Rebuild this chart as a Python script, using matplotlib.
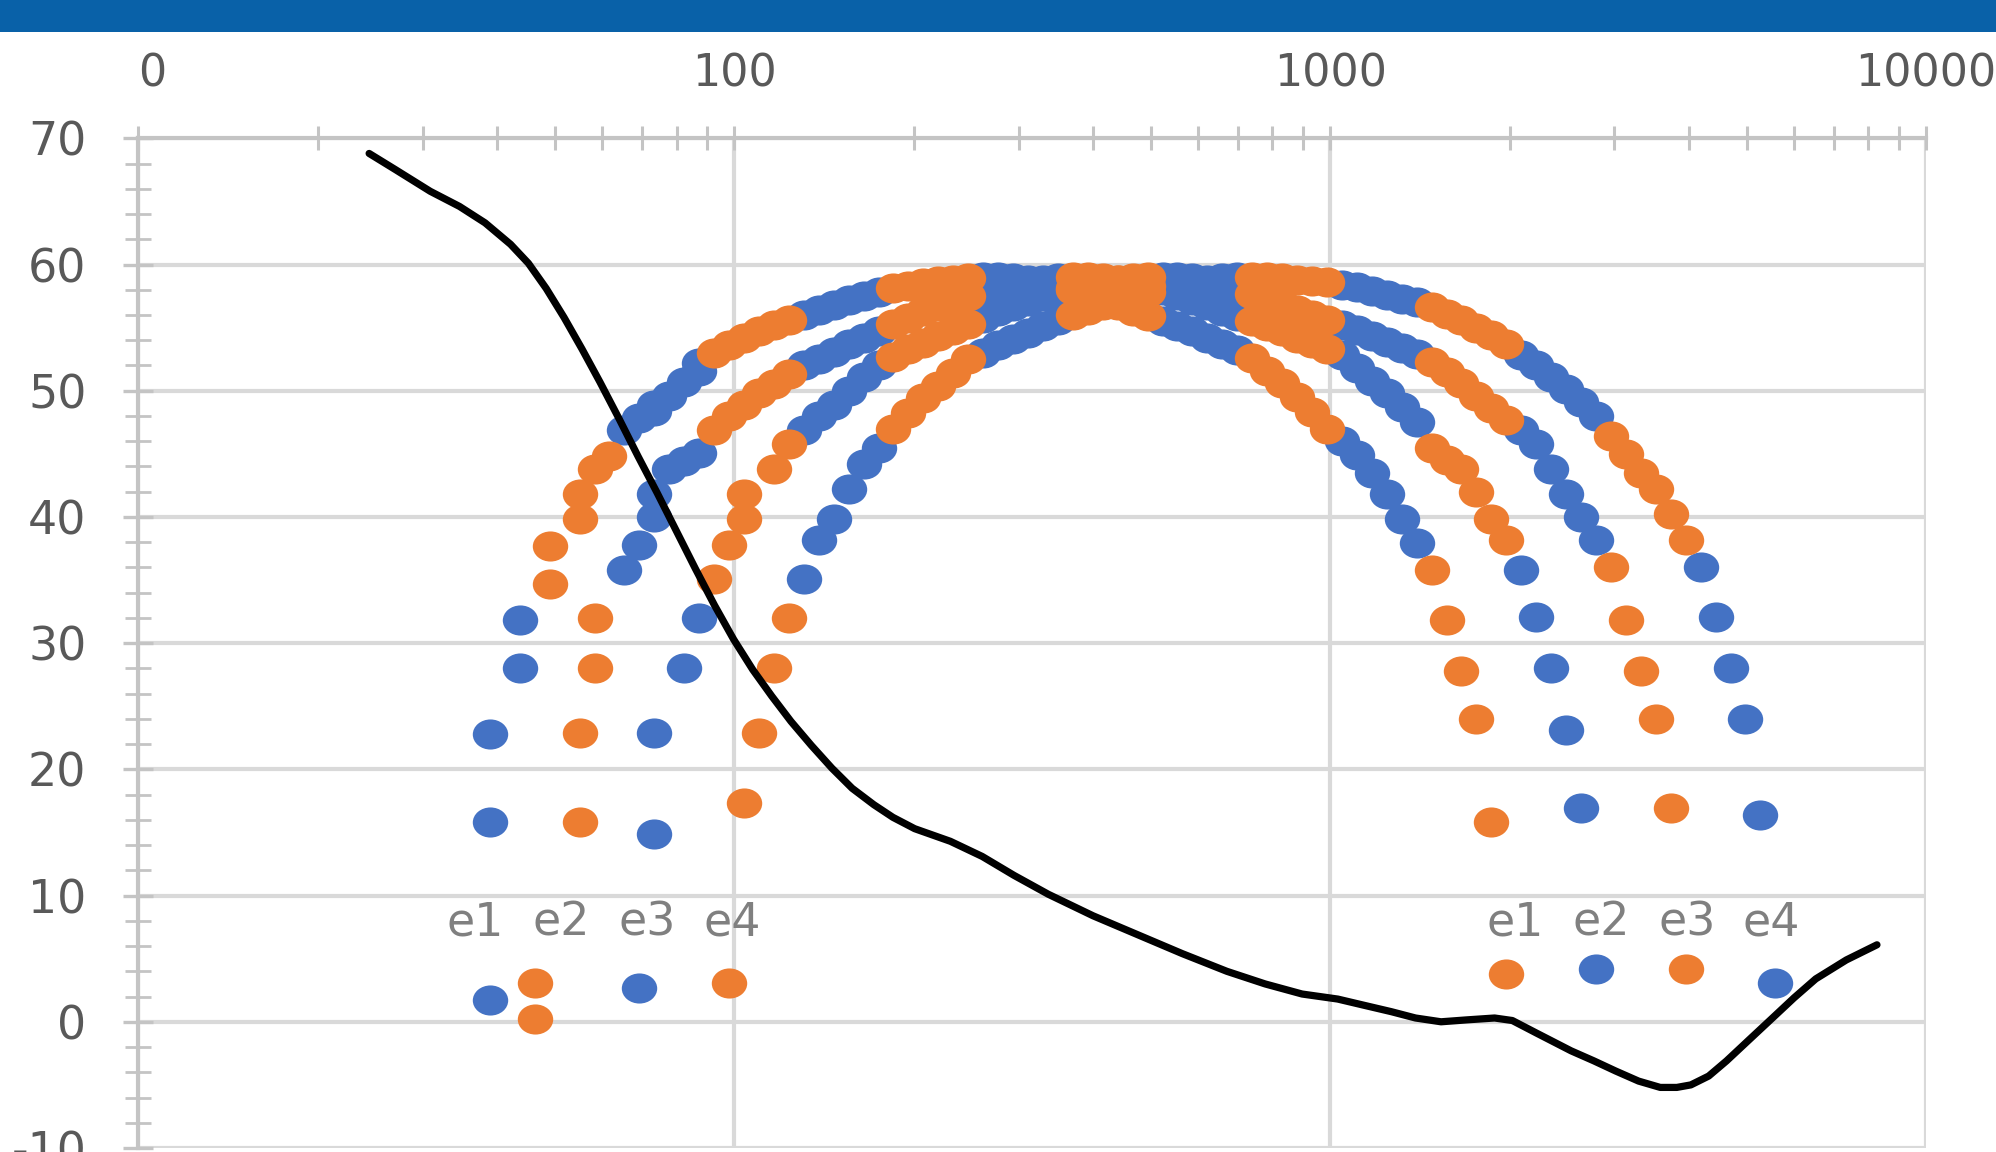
import numpy as np
import matplotlib
matplotlib.use("Agg")
import matplotlib.pyplot as plt
from matplotlib.path import Path
from matplotlib.transforms import Affine2D
from matplotlib.patches import Rectangle
from matplotlib.ticker import FixedLocator, FixedFormatter, LogLocator, NullFormatter, MultipleLocator

plt.rcParams['font.family'] = ['DejaVu Sans']
plt.rcParams['axes.unicode_minus'] = False

# ---------------- data ----------------
x_ticks = [10, 100, 1000, 10000]
x_tick_labels = ['0', '100', '1000', '10000']
y_ticks = [-10, 0, 10, 20, 30, 40, 50, 60, 70]
y_tick_labels = ['-10', '0', '10', '20', '30', '40', '50', '60', '70']

# colour alternates every half octave (C..F blue, F#..B orange)
half_octave_edges_hz = [45.25, 64.0, 90.5, 128.0, 181.0, 256.0, 362.0, 512.0,
                        724.1, 1024.0, 1448.2, 2048.0, 2896.3, 4096.0, 5792.6]

e1_hz = [38.89, 38.89, 38.89, 43.65, 43.65, 49.00, 49.00, 55.00, 55.00, 58.27,
         61.74, 65.41, 69.30, 73.42, 73.42, 77.78, 82.41, 87.31, 87.31,
         92.50, 98.00, 103.83, 110.00, 116.54, 123.47, 130.81, 138.59, 146.83, 155.56,
         164.81, 174.61, 185.00, 196.00, 207.65, 220.00, 233.08, 246.94, 261.63, 277.18,
         293.66, 311.13, 329.63, 349.23, 369.99, 392.00, 415.30, 440.00, 466.16, 493.88,
         523.25, 554.37, 587.33, 622.25, 659.26, 698.46, 739.99, 783.99, 830.61, 880.00,
         932.33, 987.77, 1046.50, 1108.73, 1174.66, 1244.51, 1318.51, 1396.91, 1479.98, 1567.98,
         1661.22, 1760.00, 1864.66, 1975.53]
e1_db = [1.7, 15.8, 22.8, 28.0, 31.8, 34.7, 37.7, 39.8, 41.8, 43.8,
         44.8, 46.9, 47.8, 48.4, 48.9, 49.6, 50.7, 51.6, 52.2,
         53.0, 53.6, 54.2, 54.7, 55.2, 55.6, 56.0, 56.4, 56.8, 57.2,
         57.5, 57.8, 58.1, 58.3, 58.5, 58.7, 58.8, 58.9, 59.0, 59.0,
         58.9, 58.8, 58.6, 58.3, 58.0, 57.6, 57.2, 56.8, 56.3, 55.9,
         55.5, 55.1, 54.7, 54.2, 53.7, 53.2, 52.6, 51.6, 50.6, 49.5,
         48.3, 47.0, 46.0, 44.9, 43.5, 41.8, 39.8, 37.9, 35.8, 31.8,
         27.8, 24.0, 15.8, 3.8]

e2_hz = [46.25, 46.25, 55.00, 55.00, 58.27, 58.27, 65.41, 69.30, 73.42, 73.42,
         77.78, 82.41, 87.31,
         92.50, 98.00, 103.83, 110.00, 116.54, 123.47, 130.81, 138.59, 146.83, 155.56,
         164.81, 174.61, 185.00, 196.00, 207.65, 220.00, 233.08, 246.94, 261.63, 277.18,
         293.66, 311.13, 329.63, 349.23, 369.99, 392.00, 415.30, 440.00, 466.16, 493.88,
         523.25, 554.37, 587.33, 622.25, 659.26, 698.46, 739.99, 783.99, 830.61, 880.00,
         932.33, 987.77, 1046.50, 1108.73, 1174.66, 1244.51, 1318.51, 1396.91, 1479.98, 1567.98,
         1661.22, 1760.00, 1864.66, 1975.53, 2093.00, 2217.46, 2349.32, 2489.02, 2637.02, 2793.83]
e2_db = [0.2, 3.1, 15.8, 22.9, 28.0, 32.0, 35.8, 37.8, 40.0, 41.8,
         43.8, 44.4, 45.1,
         46.9, 48.0, 48.9, 49.8, 50.5, 51.3, 52.0, 52.5, 53.1, 53.7,
         54.2, 54.7, 55.3, 55.8, 56.3, 56.7, 57.1, 57.5, 57.8, 58.1,
         58.4, 58.6, 58.8, 58.9, 59.0, 59.0, 58.9, 58.8, 58.6, 58.3,
         58.0, 57.6, 57.2, 56.8, 56.3, 55.9, 55.5, 55.1, 54.7, 54.2,
         53.8, 53.3, 52.8, 51.8, 50.8, 49.8, 48.7, 47.5, 45.5, 44.5,
         43.8, 42.0, 39.8, 38.2, 35.8, 32.1, 28.0, 23.1, 16.9, 4.2]

e3_hz = [69.30, 73.42, 73.42, 82.41, 87.31, 92.50, 98.00, 103.83, 103.83, 116.54,
         123.47,
         130.81, 138.59, 146.83, 155.56, 164.81, 174.61, 185.00, 196.00, 207.65, 220.00,
         233.08, 246.94, 261.63, 277.18, 293.66, 311.13, 329.63, 349.23, 369.99, 392.00,
         415.30, 440.00, 466.16, 493.88, 523.25, 554.37, 587.33, 622.25, 659.26, 698.46,
         739.99, 783.99, 830.61, 880.00, 932.33, 987.77, 1046.50, 1108.73, 1174.66, 1244.51,
         1318.51, 1396.91, 1479.98, 1567.98, 1661.22, 1760.00, 1864.66, 1975.53, 2093.00, 2217.46,
         2349.32, 2489.02, 2637.02, 2793.83, 2959.96, 3135.96, 3322.44, 3520.00, 3729.31, 3951.07]
e3_db = [2.7, 14.9, 22.9, 28.0, 32.0, 35.1, 37.8, 39.8, 41.8, 43.8,
         45.8,
         46.9, 48.0, 48.9, 50.0, 51.1, 52.0, 52.7, 53.3, 53.8, 54.3,
         54.8, 55.3, 55.8, 56.3, 56.7, 57.1, 57.5, 57.8, 58.1, 58.4,
         58.6, 58.8, 58.9, 59.0, 59.0, 59.0, 58.9, 58.7, 58.4, 58.1,
         57.7, 57.3, 56.9, 56.4, 56.0, 55.6, 55.2, 54.8, 54.3, 53.9,
         53.4, 52.9, 52.3, 51.5, 50.6, 49.6, 48.6, 47.7, 46.9, 45.8,
         43.8, 41.8, 40.0, 38.2, 36.0, 31.8, 27.8, 24.0, 16.9, 4.2]

e4_hz = [98.00,
         103.83, 110.00, 116.54, 123.47, 130.81, 138.59, 146.83, 155.56, 164.81, 174.61,
         185.00, 196.00, 207.65, 220.00, 233.08, 246.94, 261.63, 277.18, 293.66, 311.13,
         329.63, 349.23, 369.99, 392.00, 415.30, 440.00, 466.16, 493.88, 523.25, 554.37,
         587.33, 622.25, 659.26, 698.46, 739.99, 783.99, 830.61, 880.00, 932.33, 987.77,
         1046.50, 1108.73, 1174.66, 1244.51, 1318.51, 1396.91, 1479.98, 1567.98, 1661.22, 1760.00,
         1864.66, 1975.53, 2093.00, 2217.46, 2349.32, 2489.02, 2637.02, 2793.83, 2959.96, 3135.96,
         3322.44, 3520.00, 3729.31, 3951.07, 4186.01, 4434.92, 4698.64, 4978.03, 5274.04, 5587.65]
e4_db = [3.1,
         17.3, 22.9, 28.0, 32.0, 35.1, 38.2, 39.8, 42.2, 44.2, 45.5,
         47.0, 48.2, 49.4, 50.4, 51.4, 52.5, 53.0, 53.6, 54.1, 54.6,
         55.1, 55.6, 56.0, 56.4, 56.8, 57.2, 57.5, 57.8, 58.1, 58.4,
         58.6, 58.8, 58.9, 59.0, 59.0, 59.0, 58.9, 58.8, 58.7, 58.6,
         58.4, 58.2, 57.9, 57.6, 57.3, 57.0, 56.6, 56.1, 55.6, 55.0,
         54.4, 53.7, 52.8, 52.0, 51.1, 50.1, 49.1, 48.0, 46.4, 45.0,
         43.5, 42.2, 40.2, 38.2, 36.0, 32.1, 28.0, 24.0, 16.4, 3.1]

threshold_hz = [24.39, 27.04, 30.89, 34.59, 38.18, 42.13, 45.13, 48.35, 51.81, 55.53,
                59.49, 64.04, 68.95, 74.24, 79.93, 86.05, 92.65, 99.75, 107.4, 115.6,
                124.5, 134.7, 145.8, 157.7, 171.5, 184.6, 200.8, 230.5, 260.7, 294.8,
                336.7, 400.0, 475.3, 564.8, 670.9, 777.8, 897.3, 1030, 1142, 1267,
                1391, 1535, 1694, 1888, 2022, 2221, 2537, 2772, 3014, 3294,
                3581, 3818, 4031, 4318, 4626, 5055, 5525, 6006, 6531, 7350,
                8274]
threshold_db = [68.8, 67.5, 65.8, 64.6, 63.3, 61.6, 60.1, 58.1, 55.8, 53.3,
                50.7, 47.8, 44.8, 41.9, 38.9, 35.9, 33.0, 30.3, 27.9, 25.8,
                23.8, 21.9, 20.1, 18.5, 17.2, 16.2, 15.3, 14.3, 13.1, 11.6,
                10.1, 8.4, 6.9, 5.4, 4.0, 3.0, 2.2, 1.8, 1.3, 0.8,
                0.3, 0.0, 0.15, 0.3, 0.1, -0.9, -2.3, -3.1, -3.9, -4.7,
                -5.2, -5.2, -5.0, -4.3, -3.1, -1.4, 0.3, 1.9, 3.4, 4.9,
                6.1]

series_names = ['e1', 'e2', 'e3', 'e4']
left_label_hz = [36.7, 51.3, 71.4, 99.3]
right_label_hz = [2048, 2855, 3972, 5497]
label_db = 6.8

BLUE = '#4472C4'
ORANGE = '#ED7D31'

# ---------------- figure ----------------
W, H = 1996, 1152
fig = plt.figure(figsize=(W / 100, H / 100), dpi=100)
fig.patch.set_facecolor('white')
fig.add_artist(Rectangle((0, 1 - 31.5 / H), 1, 31.5 / H, transform=fig.transFigure,
                         facecolor='#0961A8', edgecolor='none', zorder=0))

left_px, right_px, top_px, bot_px = 138.4, 1926.0, 138.3, 1148.0
ax = fig.add_axes([left_px / W, 1 - bot_px / H, (right_px - left_px) / W, (bot_px - top_px) / H])
ax.set_xscale('log')
ax.set_xlim(10, 10000)
ax.set_ylim(-10, 70)
ax.set_facecolor('white')

# grid & spines
ax.set_axisbelow(True)
ax.grid(True, which='major', axis='both', color='#D9D9D9', linewidth=3.0)
for s in ['right', 'bottom']:
    ax.spines[s].set_visible(False)
for s in ['top', 'left']:
    ax.spines[s].set_color('#C4C4C4')
    ax.spines[s].set_linewidth(3.0)

ax.xaxis.set_major_locator(FixedLocator(x_ticks))
ax.xaxis.set_major_formatter(FixedFormatter(x_tick_labels))
ax.xaxis.set_minor_locator(LogLocator(base=10, subs=np.arange(2, 10), numticks=20))
ax.xaxis.set_minor_formatter(NullFormatter())
ax.yaxis.set_major_locator(FixedLocator(y_ticks))
ax.yaxis.set_major_formatter(FixedFormatter(y_tick_labels))
ax.yaxis.set_minor_locator(MultipleLocator(2))

ax.tick_params(axis='x', which='both', top=True, bottom=False, labeltop=True, labelbottom=False,
               direction='inout', length=17, width=2.2, color='#C4C4C4')
ax.tick_params(axis='x', which='major', pad=22, labelsize=32, labelcolor='#595959')
ax.tick_params(axis='y', which='major', left=True, right=False, direction='inout', length=21,
               width=2.4, color='#C4C4C4', pad=27, labelsize=33, labelcolor='#595959')
ax.tick_params(axis='y', which='minor', left=True, right=False, direction='inout', length=19,
               width=2.0, color='#C4C4C4')
ax.xaxis.get_major_ticks()[0].label2.set_horizontalalignment('left')

# dots
ellipse = Path.unit_circle().transformed(Affine2D().scale(1.0, 0.85))
all_hz = np.concatenate([e1_hz, e2_hz, e3_hz, e4_hz])
all_db = np.concatenate([e1_db, e2_db, e3_db, e4_db])
band = np.searchsorted(half_octave_edges_hz, all_hz)
is_blue = (band % 2) == 0
ms = 25.5
ax.scatter(all_hz[is_blue], all_db[is_blue], s=ms ** 2, marker=ellipse, color=BLUE,
           linewidths=0, zorder=3)
ax.scatter(all_hz[~is_blue], all_db[~is_blue], s=ms ** 2, marker=ellipse, color=ORANGE,
           linewidths=0, zorder=3)

# threshold curve
ax.plot(threshold_hz, threshold_db, color='black', linewidth=5.2, solid_capstyle='round',
        solid_joinstyle='round', zorder=5)

# labels
for name, fx in zip(series_names, left_label_hz):
    ax.text(fx, label_db, name, ha='center', va='baseline', fontsize=33, color='#808080', zorder=4)
for name, fx in zip(series_names, right_label_hz):
    ax.text(fx, label_db, name, ha='center', va='baseline', fontsize=33, color='#808080', zorder=4)

fig.savefig('out.png', dpi=100, facecolor='white')
